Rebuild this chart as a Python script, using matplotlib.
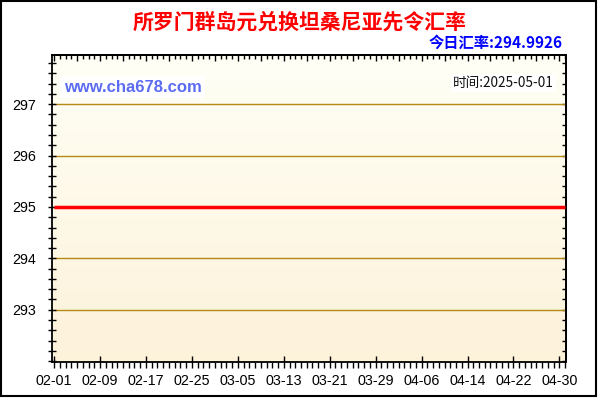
import matplotlib
matplotlib.use("Agg")
import matplotlib.pyplot as plt
import matplotlib.ticker as mticker
from matplotlib.patches import Rectangle
import numpy as np

# ---- data ----
title = "所罗门群岛元兑换坦桑尼亚先令汇率"
subtitle = "今日汇率:294.9926"
watermark = "www.cha678.com"
time_text = "时间:2025-05-01"
rate_days = [0, 89]  # day offsets from 02-01 (02-01 .. 05-01), flat line
rate_values = [294.9926, 294.9926]
xtick_labels = ["02-01", "02-09", "02-17", "02-25", "03-05", "03-13",
                "03-21", "03-29", "04-06", "04-14", "04-22", "04-30"]
yticks = [293, 294, 295, 296, 297]

plt.rcParams['font.family'] = ['Liberation Sans', 'DejaVu Sans']

fig = plt.figure(figsize=(6, 4), dpi=100)
fig.patch.set_facecolor("white")

ax = fig.add_axes([51.5/600, 38.3/400, (566-51.5)/600, (361.7-55.3)/400])

# gradient background
grad = np.linspace(0, 1, 256).reshape(-1, 1)
top_c = np.array([255, 255, 246]) / 255
bot_c = np.array([253, 242, 218]) / 255
img = top_c[None, None, :] * (1 - grad[:, :, None]) + bot_c[None, None, :] * grad[:, :, None]
ax.imshow(img, extent=[0, 1, 0, 1], transform=ax.transAxes, aspect="auto", zorder=0, origin="upper")

ax.set_xlim(-0.45, 89.15)
ax.set_ylim(291.99, 297.95)

for y in yticks:
    ax.axhline(y, color="#B48A14", lw=1.0, zorder=1)

ax.plot(rate_days, rate_values, color="#FF0000", lw=2.5, zorder=3, solid_capstyle="butt")

ax.xaxis.set_major_locator(mticker.FixedLocator([i * 8 for i in range(len(xtick_labels))]))
ax.xaxis.set_major_formatter(mticker.FixedFormatter(xtick_labels))
ax.xaxis.set_minor_locator(mticker.MultipleLocator(1))
ax.yaxis.set_major_locator(mticker.FixedLocator(yticks))
ax.yaxis.set_minor_locator(mticker.MultipleLocator(0.2))

ax.tick_params(axis="x", which="major", direction="inout", length=9, width=1, labelsize=10.3, pad=4, colors="black")
ax.tick_params(axis="x", which="minor", direction="out", length=4, width=1)
ax.tick_params(axis="y", which="both", direction="inout", length=6, width=1)
ax.tick_params(axis="y", which="major", labelsize=10.3, pad=8)

secx = ax.secondary_xaxis("top")
secx.xaxis.set_major_locator(mticker.MultipleLocator(4))
secx.xaxis.set_minor_locator(mticker.MultipleLocator(1))
secx.tick_params(which="major", direction="in", length=4, width=1, labeltop=False)
secx.tick_params(which="minor", direction="in", length=3, width=1)
secy = ax.secondary_yaxis("right")
secy.yaxis.set_major_locator(mticker.FixedLocator(yticks))
secy.yaxis.set_minor_locator(mticker.MultipleLocator(0.2))
secy.tick_params(which="both", direction="in", length=3, width=1, labelright=False)

for s in ax.spines.values():
    s.set_linewidth(1.3)
for s in list(secx.spines.values()) + list(secy.spines.values()):
    s.set_linewidth(1.3)

ax.text(0.024, 0.895, watermark, transform=ax.transAxes, fontsize=12, fontweight="bold",
        color="#5C6CF2", ha="left", va="center", zorder=4,
        bbox=dict(facecolor="white", edgecolor="none", pad=2.5))
ax.text(0.976, 0.91, time_text, transform=ax.transAxes, fontsize=9.8,
        color="#111111", ha="right", va="center", zorder=4,
        family=["Noto Sans CJK SC", "DejaVu Sans"],
        bbox=dict(facecolor="white", edgecolor="none", pad=1.5))

fig.text(0.5, 1 - 22/400, title, fontsize=15, fontweight="bold", color="#FF0000",
         ha="center", va="center", family=["Noto Sans CJK SC", "DejaVu Sans"])
fig.text(563/600, 1 - 43/400, subtitle, fontsize=11, fontweight="bold", color="#0000FF",
         ha="right", va="center", family=["Noto Sans CJK SC", "DejaVu Sans"])

fig.patches.append(Rectangle((0.5/600, 1 - 395.5/400), 595.5/600, 395/400,
                             transform=fig.transFigure, fill=False, edgecolor="black", lw=1.5))

fig.savefig("out.png", dpi=100)
